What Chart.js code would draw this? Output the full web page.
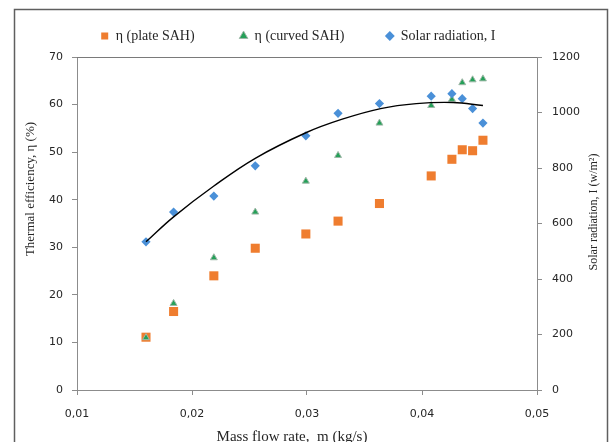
<!DOCTYPE html>
<html><head><meta charset="utf-8">
<script src="https://cdn.jsdelivr.net/npm/chart.js@4.4.0/dist/chart.umd.min.js"></script>
<style>html,body{margin:0;padding:0;background:#fff;overflow:hidden}</style>
</head><body>
<canvas id="c" width="611" height="442" style="display:block;width:611px;height:442px"></canvas>
<script>
// ---- data ----
const massFlow = [0.0160, 0.0184, 0.0219, 0.0255, 0.0299, 0.0327, 0.0363, 0.0408, 0.0426, 0.0435, 0.0444, 0.0453];
const etaPlate = [11.1, 16.5, 24.0, 29.8, 32.8, 35.5, 39.2, 45.0, 48.5, 50.5, 50.3, 52.5];
const etaCurved = [11.0, 18.2, 27.8, 37.4, 43.9, 49.3, 56.1, 59.8, 61.1, 64.6, 65.2, 65.4];
const solarRadiation = [534, 641, 699, 808, 916, 997, 1032, 1059, 1068, 1050, 1014, 962];
// trend line of solar radiation
const trendMassFlow = [0.0160, 0.0184, 0.0219, 0.0255, 0.0299, 0.0330, 0.0364, 0.0395, 0.0427, 0.0453];
const trendSolar = [534, 624, 735, 835, 927, 975, 1014, 1032, 1036, 1025];
const seriesLabels = ['η (plate SAH)', 'η (curved SAH)', 'Solar radiation, I'];
const xTickValues = [0.01, 0.02, 0.03, 0.04, 0.05];
const xTickLabels = ['0,01', '0,02', '0,03', '0,04', '0,05'];
const etaTickValues = [0, 10, 20, 30, 40, 50, 60, 70];
const solarTickValues = [0, 200, 400, 600, 800, 1000, 1200];
const xTitle = 'Mass flow rate,  m (kg/s)';
const etaTitle = 'Thermal efficiency, η (%)';
const solarTitle = 'Solar radiation, I (w/m²)';

const pts = (xs, ys) => xs.map((x, i) => ({x: x, y: ys[i]}));

const tickFont = {family: 'DejaVu Sans', size: 11};
const axisColor = '#8c8c8c';
const textColor = '#262626';

const framePlugin = {
  id: 'frame',
  beforeDraw(chart) {
    const ctx = chart.ctx;
    ctx.save();
    ctx.fillStyle = '#fff';
    ctx.fillRect(0, 0, chart.width, chart.height);
    ctx.strokeStyle = '#5f5f5f';
    ctx.lineWidth = 1.5;
    ctx.strokeRect(14.5, 9.5, 593, 500);
    ctx.restore();
  },
  afterDraw(chart) {
    const ctx = chart.ctx, a = chart.chartArea;
    ctx.save();
    ctx.strokeStyle = '#7a7a7a';
    ctx.lineWidth = 1.2;
    ctx.beginPath();
    ctx.moveTo(a.left, a.top + 0.5);
    ctx.lineTo(a.right, a.top + 0.5);
    ctx.stroke();
    // axis titles
    ctx.fillStyle = textColor;
    ctx.textAlign = 'center';
    ctx.textBaseline = 'alphabetic';
    ctx.font = '15px "Liberation Serif"';
    ctx.fillText(xTitle, a.left + 215, a.bottom + 51);
    ctx.save();
    ctx.font = '13px "Liberation Serif"';
    ctx.translate(a.left - 43, a.top + 132);
    ctx.rotate(-Math.PI / 2);
    ctx.fillText(etaTitle, 0, 0);
    ctx.restore();
    ctx.save();
    ctx.font = '12px "Liberation Serif"';
    ctx.translate(a.right + 60, a.top + 155);
    ctx.rotate(-Math.PI / 2);
    ctx.fillText(solarTitle, 0, 0);
    ctx.restore();
    ctx.restore();
  }
};

const legendSpacing = [10, 9, 0];

new Chart(document.getElementById('c'), {
  type: 'scatter',
  data: {
    datasets: [
      {label: seriesLabels[0], data: pts(massFlow, etaPlate), yAxisID: 'y', order: 3,
       pointStyle: 'rect', pointRadius: 6.4, pointHoverRadius: 6.4,
       backgroundColor: '#EF7D2F', borderColor: '#EF7D2F', borderWidth: 0},
      {label: seriesLabels[1], data: pts(massFlow, etaCurved), yAxisID: 'y', order: 2,
       pointStyle: 'triangle', pointRadius: 4, pointHoverRadius: 4,
       backgroundColor: '#24A058', borderColor: '#9fb8a8', borderWidth: 1},
      {label: seriesLabels[2], data: pts(massFlow, solarRadiation), yAxisID: 'y1', order: 1,
       pointStyle: 'rectRot', pointRadius: 4.6, pointHoverRadius: 4.6,
       backgroundColor: '#4A90D8', borderColor: '#4A90D8', borderWidth: 0},
      {label: 'trend', type: 'line', data: pts(trendMassFlow, trendSolar), yAxisID: 'y1', order: 0,
       borderColor: '#000', borderWidth: 1.4, pointRadius: 0, fill: false,
       tension: 0.4}
    ]
  },
  options: {
    responsive: false,
    animation: false,
    devicePixelRatio: 1,
    layout: {padding: {top: 19, left: 0, right: 15, bottom: 0}},
    plugins: {
      tooltip: {enabled: false},
      title: {display: false},
      subtitle: {display: true, text: '', weight: 500, font: {size: 1}, padding: {top: 0, bottom: 2.8}},
      legend: {
        display: true, position: 'top',
        labels: {
          usePointStyle: true, boxWidth: 8, boxHeight: 7, padding: 10,
          color: textColor, font: {family: 'Liberation Serif', size: 14},
          filter: (item) => item.datasetIndex < 3,
          sort: (a, b) => a.datasetIndex - b.datasetIndex,
          generateLabels: (chart) => {
            const items = Chart.defaults.plugins.legend.labels.generateLabels(chart);
            items.forEach((it) => {
              if (it.datasetIndex < 3) it.text = it.text + ' '.repeat(legendSpacing[it.datasetIndex]);
            });
            return items;
          }
        }
      }
    },
    scales: {
      x: {
        type: 'linear', position: 'bottom', min: 0.01, max: 0.05,
        afterBuildTicks: (s) => { s.ticks = xTickValues.map(v => ({value: v})); },
        afterFit: (s) => { s.height = 52; },
        ticks: {callback: (v, i) => xTickLabels[i], font: tickFont, color: textColor, padding: 13, maxRotation: 0, autoSkip: false},
        grid: {display: true, drawOnChartArea: false, drawTicks: true, tickLength: 5, color: axisColor},
        border: {display: true, color: axisColor, width: 1}
      },
      y: {
        type: 'linear', position: 'left', min: 0, max: 70,
        afterBuildTicks: (s) => { s.ticks = etaTickValues.map(v => ({value: v})); },
        afterFit: (s) => { s.width = 77; },
        ticks: {callback: (v) => String(v), font: tickFont, color: textColor, padding: 9},
        grid: {display: true, drawOnChartArea: false, drawTicks: true, tickLength: 5, color: axisColor},
        border: {display: true, color: axisColor, width: 1}
      },
      y1: {
        type: 'linear', position: 'right', min: 0, max: 1200,
        afterBuildTicks: (s) => { s.ticks = solarTickValues.map(v => ({value: v})); },
        afterFit: (s) => { s.width = 59; },
        ticks: {callback: (v) => String(v), font: tickFont, color: textColor, padding: 10},
        grid: {display: true, drawOnChartArea: false, drawTicks: true, tickLength: 5, color: axisColor},
        border: {display: true, color: axisColor, width: 1}
      }
    }
  },
  plugins: [framePlugin]
});
</script>
</body></html>
